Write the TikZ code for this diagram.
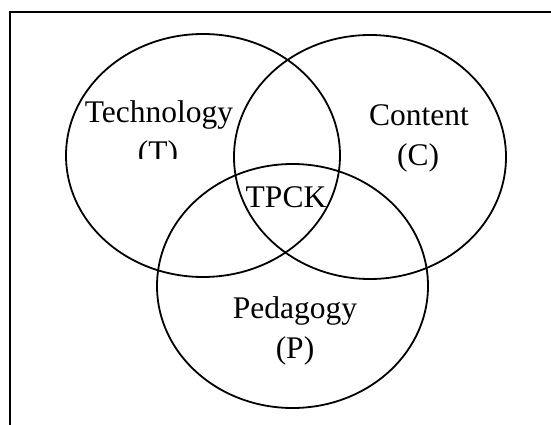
\documentclass[tikz,border=0pt]{standalone}
\usepackage{fontspec}
\setmainfont{Liberation Serif}
\usetikzlibrary{shapes.geometric}
\begin{document}
\begin{tikzpicture}[x=1pt,y=-1pt,
  set/.style={draw=black, line width=1.8pt, ellipse, inner sep=0pt},
  lbl/.style={anchor=base, inner sep=0pt, font=\fontsize{31.5}{40}\selectfont},
  frame/.style={draw=black, line width=2pt}]
\useasboundingbox (0,0) rectangle (551,425);
% frame
\coordinate (fl) at (10,425);
\coordinate (fc) at (10,12);
\coordinate (fr) at (552,12);
\draw[frame] (fl) -- (fc) -- (fr);
% sets
\node[set, minimum width=274pt, minimum height=243pt] (T) at (203,155.5) {};
\node[set, minimum width=272pt, minimum height=244pt] (C) at (370,157) {};
\node[set, minimum width=271pt, minimum height=244pt] (P) at (292.5,286) {};
% labels
\node[lbl] (tl) at (159,122) {Technology};
\begin{scope}
  \clip (100,130) rectangle (220,158);
  \node[lbl] (tt) at (158,162) {(T)};
\end{scope}
\node[lbl] (cl) at (419,125) {Content};
\node[lbl] (cc) at (418,165) {(C)};
\node[lbl] (tpck) at (286,207) {TPCK};
\node[lbl] (pl) at (295,318) {Pedagogy};
\node[lbl] (pp) at (295,358) {(P)};
\end{tikzpicture}
\end{document}
